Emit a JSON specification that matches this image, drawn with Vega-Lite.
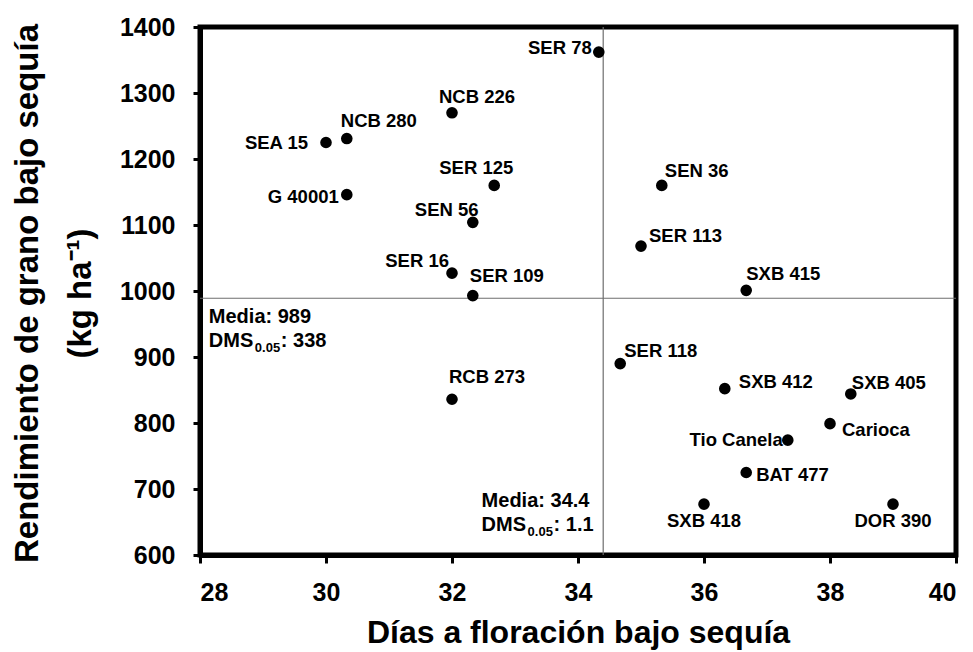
{
  "$schema": "https://vega.github.io/schema/vega-lite/v6.json",
  "width": 756,
  "height": 528,
  "autosize": {"type": "none"},
  "padding": {"left": 200, "top": 27, "right": 17, "bottom": 97},
  "background": "white",
  "config": {
    "font": "Liberation Sans",
    "view": {"stroke": "black", "strokeWidth": 5},
    "axis": {
      "grid": false,
      "domainColor": "black",
      "domainWidth": 5,
      "tickColor": "black",
      "tickWidth": 3,
      "tickSize": 8,
      "labelFont": "Liberation Sans",
      "labelFontWeight": "bold",
      "labelFontSize": 25,
      "labelColor": "black",
      "titleFont": "Liberation Sans",
      "titleFontWeight": "bold",
      "titleColor": "black"
    }
  },
  "datasets": {
    "pts": [
      {"g": "SER 78", "dias": 34.33, "rend": 1362},
      {"g": "NCB 226", "dias": 32.0, "rend": 1270},
      {"g": "NCB 280", "dias": 30.33, "rend": 1231},
      {"g": "SEA 15", "dias": 30.0, "rend": 1225},
      {"g": "G 40001", "dias": 30.33, "rend": 1146},
      {"g": "SER 125", "dias": 32.67, "rend": 1160},
      {"g": "SEN 56", "dias": 32.33, "rend": 1104},
      {"g": "SER 16", "dias": 32.0, "rend": 1027},
      {"g": "SER 109", "dias": 32.33, "rend": 993},
      {"g": "RCB 273", "dias": 32.0, "rend": 836},
      {"g": "SEN 36", "dias": 35.33, "rend": 1160},
      {"g": "SER 113", "dias": 35.0, "rend": 1068},
      {"g": "SXB 415", "dias": 36.67, "rend": 1001},
      {"g": "SER 118", "dias": 34.67, "rend": 890},
      {"g": "SXB 412", "dias": 36.33, "rend": 852},
      {"g": "SXB 405", "dias": 38.33, "rend": 844},
      {"g": "Carioca", "dias": 38.0, "rend": 799},
      {"g": "Tio Canela", "dias": 37.33, "rend": 774},
      {"g": "BAT 477", "dias": 36.67, "rend": 725},
      {"g": "SXB 418", "dias": 36.0, "rend": 677},
      {"g": "DOR 390", "dias": 39.0, "rend": 677}
    ],
    "means": [{"dias": 34.4, "rend": 989}],
    "notes": [
      {"dias": 28.14, "rend": 961, "media": "Media: 989", "dms": ": 338"},
      {"dias": 32.47, "rend": 682, "media": "Media: 34.4", "dms": ": 1.1"}
    ]
  },
  "layer": [
    {
      "data": {"name": "means"},
      "mark": {"type": "rule", "color": "#6e6e6e", "strokeWidth": 1.2},
      "encoding": {
        "x": {"field": "dias", "type": "quantitative", "scale": {"domain": [28, 40], "nice": false, "zero": false},
          "axis": {"values": [28, 30, 32, 34, 36, 38, 40], "format": "d", "title": "Días a floración bajo sequía", "titleFontSize": 32, "labelPadding": 17, "titleX": 378, "titleY": 77, "titleBaseline": "middle", "titleAnchor": "middle"}},
        "y": {"field": "rend", "type": "quantitative", "scale": {"domain": [600, 1400], "nice": false, "zero": false},
          "axis": {"values": [600, 700, 800, 900, 1000, 1100, 1200, 1300, 1400], "format": "d", "title": ["Rendimiento de grano bajo sequía", "(kg ha⁻¹)"], "titleFontSize": 33, "titleLineHeight": 53, "labelPadding": 18, "tickSize": 7, "titleAngle": -90, "titleX": -173, "titleY": 266, "titleAlign": "center", "titleBaseline": "middle"}}
      },
      "layer": [
        {"mark": {"type": "rule", "color": "#6e6e6e", "strokeWidth": 1.2}, "encoding": {"y": {"value": 0}, "y2": {"value": 528}}},
        {"mark": {"type": "rule", "color": "#6e6e6e", "strokeWidth": 1.2}, "encoding": {"x": {"value": 0}, "x2": {"value": 756}}}
      ]
    },
    {
      "data": {"name": "notes"},
      "encoding": {
        "x": {"field": "dias", "type": "quantitative"},
        "y": {"field": "rend", "type": "quantitative"}
      },
      "layer": [
        {"mark": {"type": "text", "align": "left", "baseline": "middle", "fontSize": 20, "fontWeight": "bold", "color": "black"}, "encoding": {"text": {"field": "media"}}},
        {"mark": {"type": "text", "align": "left", "baseline": "middle", "fontSize": 20, "fontWeight": "bold", "color": "black", "dy": 24, "text": "DMS"}, "encoding": {}},
        {"mark": {"type": "text", "align": "left", "baseline": "middle", "fontSize": 13, "fontWeight": "bold", "color": "black", "dx": 46, "dy": 31, "text": "0.05"}, "encoding": {}},
        {"mark": {"type": "text", "align": "left", "baseline": "middle", "fontSize": 20, "fontWeight": "bold", "color": "black", "dx": 72, "dy": 24}, "encoding": {"text": {"field": "dms"}}}
      ]
    },
    {
      "data": {"name": "pts"},
      "encoding": {
        "x": {"field": "dias", "type": "quantitative"},
        "y": {"field": "rend", "type": "quantitative"},
        "text": {"field": "g"}
      },
      "layer": [
        {"mark": {"type": "circle", "size": 135, "color": "black", "opacity": 1}},
        {"transform": [{"filter": "datum.g === 'SER 78'"}], "mark": {"type": "text", "align": "right", "baseline": "middle", "dx": -7, "dy": -4, "fontSize": 18.5, "fontWeight": "bold", "color": "black"}},
        {"transform": [{"filter": "datum.g === 'NCB 226'"}], "mark": {"type": "text", "align": "left", "baseline": "middle", "dx": -13, "dy": -16, "fontSize": 18.5, "fontWeight": "bold", "color": "black"}},
        {"transform": [{"filter": "datum.g === 'NCB 280'"}], "mark": {"type": "text", "align": "left", "baseline": "middle", "dx": -6, "dy": -18, "fontSize": 18.5, "fontWeight": "bold", "color": "black"}},
        {"transform": [{"filter": "datum.g === 'SEA 15'"}], "mark": {"type": "text", "align": "right", "baseline": "middle", "dx": -18, "dy": 0, "fontSize": 18.5, "fontWeight": "bold", "color": "black"}},
        {"transform": [{"filter": "datum.g === 'G 40001'"}], "mark": {"type": "text", "align": "right", "baseline": "middle", "dx": -8, "dy": 2, "fontSize": 18.5, "fontWeight": "bold", "color": "black"}},
        {"transform": [{"filter": "datum.g === 'SER 125'"}], "mark": {"type": "text", "align": "left", "baseline": "middle", "dx": -55, "dy": -17, "fontSize": 18.5, "fontWeight": "bold", "color": "black"}},
        {"transform": [{"filter": "datum.g === 'SEN 56'"}], "mark": {"type": "text", "align": "left", "baseline": "middle", "dx": -58, "dy": -12, "fontSize": 18.5, "fontWeight": "bold", "color": "black"}},
        {"transform": [{"filter": "datum.g === 'SER 16'"}], "mark": {"type": "text", "align": "right", "baseline": "middle", "dx": -3, "dy": -12, "fontSize": 18.5, "fontWeight": "bold", "color": "black"}},
        {"transform": [{"filter": "datum.g === 'SER 109'"}], "mark": {"type": "text", "align": "left", "baseline": "middle", "dx": -3, "dy": -20, "fontSize": 18.5, "fontWeight": "bold", "color": "black"}},
        {"transform": [{"filter": "datum.g === 'RCB 273'"}], "mark": {"type": "text", "align": "left", "baseline": "middle", "dx": -3, "dy": -22, "fontSize": 18.5, "fontWeight": "bold", "color": "black"}},
        {"transform": [{"filter": "datum.g === 'SEN 36'"}], "mark": {"type": "text", "align": "left", "baseline": "middle", "dx": 3, "dy": -14, "fontSize": 18.5, "fontWeight": "bold", "color": "black"}},
        {"transform": [{"filter": "datum.g === 'SER 113'"}], "mark": {"type": "text", "align": "left", "baseline": "middle", "dx": 8, "dy": -10, "fontSize": 18.5, "fontWeight": "bold", "color": "black"}},
        {"transform": [{"filter": "datum.g === 'SXB 415'"}], "mark": {"type": "text", "align": "left", "baseline": "middle", "dx": 0, "dy": -16, "fontSize": 18.5, "fontWeight": "bold", "color": "black"}},
        {"transform": [{"filter": "datum.g === 'SER 118'"}], "mark": {"type": "text", "align": "left", "baseline": "middle", "dx": 4, "dy": -13, "fontSize": 18.5, "fontWeight": "bold", "color": "black"}},
        {"transform": [{"filter": "datum.g === 'SXB 412'"}], "mark": {"type": "text", "align": "left", "baseline": "middle", "dx": 14, "dy": -7, "fontSize": 18.5, "fontWeight": "bold", "color": "black"}},
        {"transform": [{"filter": "datum.g === 'SXB 405'"}], "mark": {"type": "text", "align": "left", "baseline": "middle", "dx": 1, "dy": -11, "fontSize": 18.5, "fontWeight": "bold", "color": "black"}},
        {"transform": [{"filter": "datum.g === 'Carioca'"}], "mark": {"type": "text", "align": "left", "baseline": "middle", "dx": 12, "dy": 6, "fontSize": 18.5, "fontWeight": "bold", "color": "black"}},
        {"transform": [{"filter": "datum.g === 'Tio Canela'"}], "mark": {"type": "text", "align": "right", "baseline": "middle", "dx": -5, "dy": 0, "fontSize": 18.5, "fontWeight": "bold", "color": "black"}},
        {"transform": [{"filter": "datum.g === 'BAT 477'"}], "mark": {"type": "text", "align": "left", "baseline": "middle", "dx": 10, "dy": 2, "fontSize": 18.5, "fontWeight": "bold", "color": "black"}},
        {"transform": [{"filter": "datum.g === 'SXB 418'"}], "mark": {"type": "text", "align": "center", "baseline": "middle", "dx": 0, "dy": 17, "fontSize": 18.5, "fontWeight": "bold", "color": "black"}},
        {"transform": [{"filter": "datum.g === 'DOR 390'"}], "mark": {"type": "text", "align": "center", "baseline": "middle", "dx": 0, "dy": 17, "fontSize": 18.5, "fontWeight": "bold", "color": "black"}}
      ]
    }
  ]
}
